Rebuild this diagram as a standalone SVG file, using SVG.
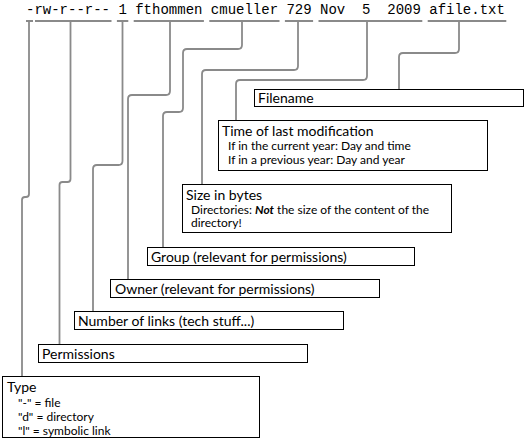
<svg xmlns="http://www.w3.org/2000/svg" width="526" height="442" viewBox="0 0 526 442">
<style>
.bg{fill:#ffffff}
.box{fill:#ffffff;stroke:#000000;stroke-width:1}
.ln{fill:none;stroke:#8a8a8a;stroke-width:1.8;stroke-linejoin:round}
.mono{font-family:"Liberation Mono","Courier New",monospace;font-size:14px;fill:#000000}
.t{font-family:Lato,"Open Sans","Liberation Sans",sans-serif;font-size:14px;fill:#000000}
.s{font-family:Lato,"Open Sans","Liberation Sans",sans-serif;font-size:12px;fill:#000000}
.bi{font-weight:bold;font-style:italic}
</style>
<rect class="bg" x="0" y="0" width="526" height="442"/>
<text class="mono" x="26" y="14" xml:space="preserve">-rw-r--r-- 1 fthommen cmueller 729 Nov  5  2009 afile.txt</text>
<g id="connectors">
<path class="ln" d="M26,21 H33 M35,21 H111.5 M116.9,21 H128.3 M133.7,21 H203.9 M209.3,21 H279.5 M284.9,21 H313.1 M318.5,21 H422.3 M427.7,21 H506.3"/>
<path class="ln" d="M29,21 V194 q0,3 -3,3 h-1 q-3,0 -3,3 V376"/>
<path class="ln" d="M70.5,21 V179 q0,3 -3,3 h-5 q-3,0 -3,3 V344"/>
<path class="ln" d="M122.5,21 V161 q0,4 -4,4 H97 q-4,0 -4,4 V311"/>
<path class="ln" d="M170,21 V91 q0,4 -4,4 H132 q-4,0 -4,4 V279"/>
<path class="ln" d="M242,21 V45 q0,4 -4,4 H187 q-4,0 -4,4 V108 q0,4 -4,4 H167 q-4,0 -4,4 V247"/>
<path class="ln" d="M298,21 V66 q0,4 -4,4 H206 q-4,0 -4,4 V184"/>
<path class="ln" d="M367,21 V76 q0,4 -4,4 H240 q-4,0 -4,4 V120"/>
<path class="ln" d="M459,21 V49 q0,4 -4,4 H403 q-4,0 -4,4 V89"/>
</g>
<g id="filename">
<rect class="box" x="254.5" y="89.5" width="269" height="17"/>
<text class="t" x="258" y="102.5">Filename</text>
</g>
<g id="time">
<rect class="box" x="218.5" y="120.5" width="269" height="50"/>
<text class="t" x="222" y="136">Time of last modification</text>
<text class="s" x="228" y="150">If in the current year: Day and time</text>
<text class="s" x="228" y="163.5">If in a previous year: Day and year</text>
</g>
<g id="size">
<rect class="box" x="182.5" y="184.5" width="269" height="48"/>
<text class="t" x="186" y="199.5">Size in bytes</text>
<text class="s" x="191" y="213.5">Directories: <tspan class="bi">Not</tspan> the size of the content of the</text>
<text class="s" x="191" y="227">directory!</text>
</g>
<g id="group">
<rect class="box" x="147.5" y="247.5" width="267" height="18"/>
<text class="t" x="151" y="261.5">Group (relevant for permissions)</text>
</g>
<g id="owner">
<rect class="box" x="110.5" y="279.5" width="269" height="18"/>
<text class="t" x="115" y="293.5">Owner (relevant for permissions)</text>
</g>
<g id="links">
<rect class="box" x="74.5" y="311.5" width="269" height="18"/>
<text class="t" x="78" y="325.5">Number of links (tech stuff...)</text>
</g>
<g id="permissions">
<rect class="box" x="38.5" y="344.5" width="269" height="18"/>
<text class="t" x="42" y="358.5">Permissions</text>
</g>
<g id="type">
<rect class="box" x="2.5" y="376.5" width="257" height="61"/>
<text class="t" x="7" y="391.5">Type</text>
<text class="s" x="18" y="407">"-" = file</text>
<text class="s" x="18" y="421">"d" = directory</text>
<text class="s" x="18" y="435">"l" = symbolic link</text>
</g>
</svg>
